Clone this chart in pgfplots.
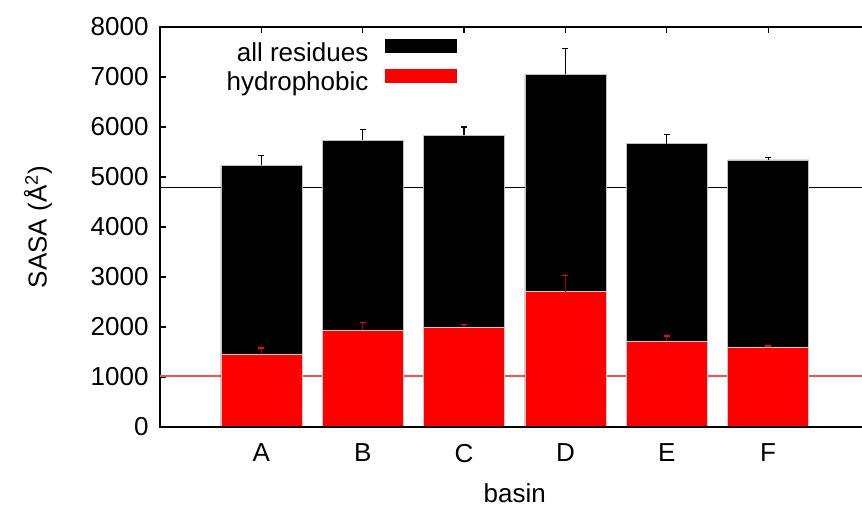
\documentclass[border=0pt]{standalone}
\usepackage{fontspec}
\setmainfont{Liberation Sans}
\usepackage{pgfplots}
\pgfplotsset{compat=1.18}
\newcommand{\gf}{\fontsize{13pt}{15pt}\selectfont}
\definecolor{errred}{RGB}{160,0,0}

\begin{document}
\begin{tikzpicture}
\path[use as bounding box] (-80pt,-40.5pt) rectangle (351pt,213.5pt);
\begin{axis}[
  at={(0,0)}, anchor=south west,
  scale only axis, width=354.75pt, height=200pt,
  xmin=-1, xmax=6, ymin=0, ymax=8000,
  xtick={0,...,5}, xticklabels={A,B,C,D,E,F},
  ytick={0,1000,...,8000},
  tick align=inside, xtick pos=both, ytick pos=both,
  major tick length=3pt,
  tick style={black, line width=0.6pt},
  axis line style={line width=0.9pt},
  /pgf/number format/1000 sep={},
  /pgf/number format/assume math mode=true,
  every tick label/.append style={font=\gf},
  xticklabel style={yshift=-5pt},
  yticklabel style={xshift=-2.2pt},
  xlabel={basin}, ylabel={SASA (Å\textsuperscript{2})},
  every axis x label/.style={font=\gf, at={(axis description cs:0.5,0)}, yshift=-33pt, anchor=center},
  every axis y label/.style={font=\gf, at={(axis description cs:0,0.5)}, xshift=-61pt, rotate=90, anchor=center},
  legend style={font=\gf, draw=none, fill=none, inner sep=0pt, outer sep=0pt,
    at={(axis description cs:0.4186,0.97)}, anchor=north east,
    nodes={inner sep=0pt, text height=9.5pt, text depth=3pt},
    column sep=8.5pt, row sep=0.8pt},
  legend cell align=right, legend plot pos=right,
]
% reference levels
\addplot[forget plot, black, line width=0.6pt] coordinates {(-1,4786) (6,4786)};
\addplot[forget plot, red!70, line width=0.6pt] coordinates {(-1,1020) (6,1020)};

% all residues
\addplot[ybar, bar width=0.8, bar shift=0pt, fill=black, draw=gray!50, line width=0.3pt,
  legend image code/.code={\fill[black] (0pt,1pt) rectangle (35.5pt,7.7pt);},
  error bars/.cd, y dir=plus, y explicit,
  error bar style={black, line width=0.6pt},
  error mark options={rotate=90, mark size=1.5pt, black, line width=0.6pt}]
  table[x=x, y=y, y error=e] {
x y e
0 5234 200
1 5734 212
2 5834 166
3 7054 520
4 5666 180
5 5340 46
};
\addlegendentry{all residues}

% hydrophobic
\addplot[ybar, bar width=0.8, bar shift=0pt, fill=red, draw=gray!40, line width=0.3pt,
  legend image code/.code={\fill[red] (0pt,1pt) rectangle (35.5pt,7.7pt);},
  error bars/.cd, y dir=plus, y explicit,
  error bar style={errred, line width=0.6pt},
  error mark options={rotate=90, mark size=1.5pt, red, line width=0.6pt}]
  table[x=x, y=y, y error=e] {
x y e
0 1460 120
1 1940 154
2 2000 54
3 2706 328
4 1720 100
5 1600 20
};
\addlegendentry{hydrophobic}

\draw[line width=0.9pt] (rel axis cs:0,0) -- (rel axis cs:1,0);
\end{axis}
\end{tikzpicture}
\end{document}
